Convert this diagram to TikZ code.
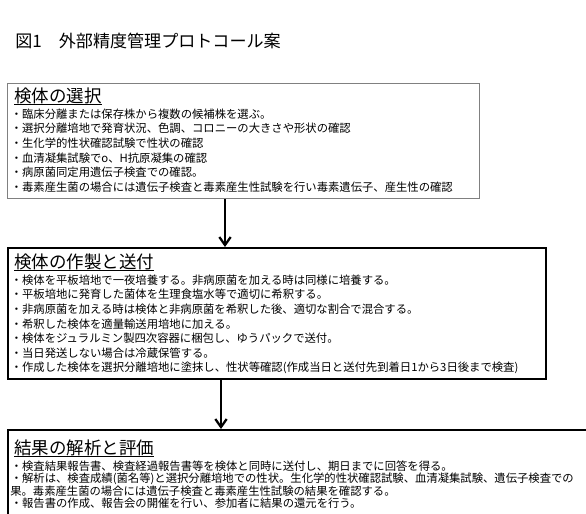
\documentclass[tikz,border=0pt]{standalone}
\usepackage{fontspec}
\setmainfont{Noto Sans CJK JP}
\usetikzlibrary{arrows.meta}

\begin{document}
\begin{tikzpicture}[x=0.75pt, y=-0.75pt,
		box/.style={draw, line width=1.2pt, anchor=north west, inner sep=0pt},
		head/.style={anchor=west, inner sep=0pt, font=\fontsize{13.1pt}{15pt}\selectfont},
		txt/.style={anchor=west, inner sep=0pt, font=\fontsize{8.5pt}{11pt}\selectfont},
		flow/.style={line width=1.7pt, -{Straight Barb[length=6pt, width=8.5pt]}}]
		\useasboundingbox (0,0) rectangle (586,514);
		\clip (0,0) rectangle (586,514);

		\node[anchor=west, inner sep=0pt, font=\fontsize{12.8pt}{14pt}\selectfont] (title) at (15,41) {図1　外部精度管理プロトコール案};

		% first box
		\node[box, draw=gray, line width=0.8pt, minimum width=354pt, minimum height=86.25pt] (b1) at (7,83) {};
		\node[head] (h1) at (14,96) {検体の選択};
		\draw[line width=0.9pt] (h1.south west) -- (h1.south east);
		\foreach \t [count=\i] in {・臨床分離または保存株から複数の候補株を選ぶ。,
				・選択分離培地で発育状況、色調、コロニーの大きさや形状の確認,
				・生化学的性状確認試験で性状の確認,
				・血清凝集試験でo、H抗原凝集の確認,
				・病原菌同定用遺伝子検査での確認。,
				・毒素産生菌の場合には遺伝子検査と毒素産生性試験を行い毒素遺伝子、産生性の確認}
			\node[txt] (t1-\i) at (10.5,{114+14.6*(\i-1)}) {\t};

		% second box
		\node[box, minimum width=403.5pt, minimum height=98.25pt] (b2) at (7,247) {};
		\node[head] (h2) at (14,262) {検体の作製と送付};
		\draw[line width=0.9pt] (h2.south west) -- (h2.south east);
		\foreach \t [count=\i] in {・検体を平板培地で一夜培養する。非病原菌を加える時は同様に培養する。,
				・平板培地に発育した菌体を生理食塩水等で適切に希釈する。,
				・非病原菌を加える時は検体と非病原菌を希釈した後、適切な割合で混合する。,
				・希釈した検体を適量輸送用培地に加える。,
				・検体をジュラルミン製四次容器に梱包し、ゆうパックで送付。,
				・当日発送しない場合は冷蔵保管する。,
				・作成した検体を選択分離培地に塗抹し、性状等確認(作成当日と送付先到着日1から3日後まで検査)}
			\node[txt] (t2-\i) at (10.5,{280+14.6*(\i-1)}) {\t};

		% third box
		\node[box, minimum width=450pt, minimum height=82.5pt] (b3) at (7,429) {};
		\node[head] (h3) at (14,448) {結果の解析と評価};
		\draw[line width=0.9pt] (h3.south west) -- (h3.south east);
		\node[txt] (t3-1) at (10.5,466) {・検査結果報告書、検査経過報告書等を検体と同時に送付し、期日までに回答を得る。};
		\node[txt] (t3-2) at (10.5,479) {・解析は、検査成績(菌名等)と選択分離培地での性状。生化学的性状確認試験、血清凝集試験、遺伝子検査での};
		\node[txt] (t3-3) at (10,491) {果。毒素産生菌の場合には遺伝子検査と毒素産生性試験の結果を確認する。};
		\node[txt] (t3-4) at (10.5,503) {・報告書の作成、報告会の開催を行い、参加者に結果の還元を行う。};

		% arrows
		\path (b1.south west) ++(218,0) coordinate (a1);
		\draw[flow] (a1) -- (a1 |- b2.north);
		\path (b2.south west) ++(214,0) coordinate (a2);
		\draw[flow] (a2) -- (a2 |- b3.north);

	\end{tikzpicture}
\end{document}
